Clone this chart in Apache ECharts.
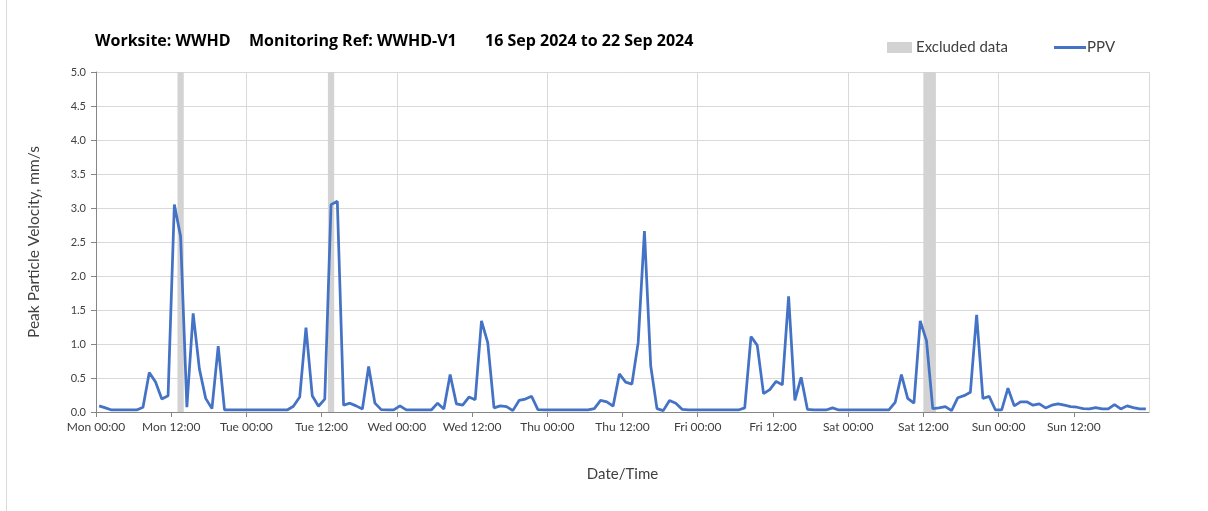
<!DOCTYPE html>
<html>
<head>
<meta charset="utf-8">
<script src="https://cdn.jsdelivr.net/npm/echarts@6/dist/echarts.min.js"></script>
<style>
  html, body { margin: 0; padding: 0; background: #fff; }
  #chart { width: 1208px; height: 511px; }
</style>
</head>
<body>
<div id="chart"></div>
<script>
// hourly PPV readings (mm/s), one array per day, taken at hh:30
var ppvMon = [0.09, 0.06, 0.03, 0.03, 0.03, 0.03, 0.03, 0.07, 0.58, 0.44, 0.19, 0.24, 3.05, 2.58, 0.07, 1.45, 0.63, 0.20, 0.05, 0.97, 0.03, 0.03, 0.03, 0.03]
var ppvTue = [0.03, 0.03, 0.03, 0.03, 0.03, 0.03, 0.03, 0.085, 0.22, 1.24, 0.24, 0.085, 0.19, 3.05, 3.10, 0.10, 0.13, 0.09, 0.045, 0.67, 0.13, 0.035, 0.03, 0.03]
var ppvWed = [0.09, 0.03, 0.03, 0.03, 0.03, 0.03, 0.13, 0.045, 0.55, 0.12, 0.10, 0.22, 0.18, 1.34, 1.02, 0.06, 0.09, 0.08, 0.02, 0.17, 0.19, 0.23, 0.035, 0.03]
var ppvThu = [0.03, 0.03, 0.03, 0.03, 0.03, 0.03, 0.03, 0.05, 0.17, 0.15, 0.085, 0.56, 0.44, 0.41, 1.02, 2.66, 0.68, 0.05, 0.02, 0.17, 0.13, 0.04, 0.03, 0.03]
var ppvFri = [0.03, 0.03, 0.03, 0.03, 0.03, 0.03, 0.03, 0.06, 1.11, 0.98, 0.27, 0.33, 0.45, 0.40, 1.70, 0.17, 0.51, 0.04, 0.03, 0.03, 0.03, 0.06, 0.03, 0.03]
var ppvSat = [0.03, 0.03, 0.03, 0.03, 0.03, 0.03, 0.03, 0.14, 0.55, 0.20, 0.13, 1.34, 1.05, 0.05, 0.06, 0.08, 0.02, 0.21, 0.24, 0.29, 1.43, 0.20, 0.23, 0.03]
var ppvSun = [0.03, 0.35, 0.09, 0.15, 0.15, 0.10, 0.12, 0.06, 0.10, 0.12, 0.10, 0.08, 0.07, 0.05, 0.045, 0.065, 0.045, 0.045, 0.11, 0.045, 0.09, 0.065, 0.045, 0.045]

// excluded periods, hours from Mon 00:00
var excludedStart = [13, 37, 132]
var excludedEnd = [14, 38, 134]

var dayNames = ['Mon', 'Tue', 'Wed', 'Thu', 'Fri', 'Sat', 'Sun']
var halfDayLabels = ['00:00', '12:00']
var yTicks = ['0.0', '0.5', '1.0', '1.5', '2.0', '2.5', '3.0', '3.5', '4.0', '4.5', '5.0']
var titleParts = ['Worksite: WWHD', 'Monitoring Ref: WWHD-V1', '16 Sep 2024 to 22 Sep 2024']

var ppv = [].concat(ppvMon, ppvTue, ppvWed, ppvThu, ppvFri, ppvSat, ppvSun)
var ppvData = ppv.map(function (v, i) { return [i + 0.5, v] })
var excludedAreas = excludedStart.map(function (s, i) {
  return [{ xAxis: s }, { xAxis: excludedEnd[i] }]
})

var font = 'Lato, "Open Sans", sans-serif'
var titleX = [95, 249, 485]
var myChart = echarts.init(document.getElementById('chart'))

var option = {
  animation: false,
  backgroundColor: '#fff',
  textStyle: { fontFamily: font },
  graphic: titleParts.map(function (t, i) {
    return {
      type: 'text',
      left: titleX[i],
      top: 33,
      style: { text: t, font: 'bold 16px "Open Sans", Lato, sans-serif', fill: '#000' }
    }
  }).concat([{
    type: 'line',
    shape: { x1: 6.5, y1: 0, x2: 6.5, y2: 511 },
    style: { stroke: '#d9d9d9', lineWidth: 1 }
  }]),
  legend: [
    {
      data: [{ name: 'Excluded data', icon: 'rect' }],
      left: 882,
      top: 35,
      itemWidth: 25,
      itemHeight: 11,
      itemGap: 4,
      textStyle: { fontSize: 15, color: '#404040', padding: [0, 0, 0, -1] }
    },
    {
      data: [{ name: 'PPV', icon: 'rect' }],
      left: 1049,
      top: 35,
      itemWidth: 32,
      itemHeight: 3,
      textStyle: { fontSize: 15, color: '#404040', padding: [0, 0, 0, -4] }
    }
  ],
  grid: {
    left: 96,
    right: 59,
    top: 72,
    bottom: 99
  },
  xAxis: [
    {
      type: 'value',
      min: 0,
      max: 168,
      interval: 12,
      name: 'Date/Time',
      nameLocation: 'middle',
      nameGap: 55,
      nameTextStyle: { fontSize: 15, color: '#404040' },
      axisLine: { show: true, lineStyle: { color: '#868686', width: 1 } },
      axisTick: { show: true, length: 5, lineStyle: { color: '#868686' } },
      splitLine: { show: false },
      axisLabel: {
        show: true,
        color: '#404040',
        fontSize: 12,
        margin: 9,
        showMaxLabel: false,
        formatter: function (v) {
          if (v >= 168) return ''
          return dayNames[Math.floor(v / 24)] + ' ' + halfDayLabels[(v % 24) / 12]
        }
      }
    },
    {
      type: 'value',
      min: 0,
      max: 168,
      interval: 24,
      position: 'bottom',
      axisLine: { show: false },
      axisTick: { show: false },
      axisLabel: { show: false },
      splitLine: { show: true, lineStyle: { color: '#d9d9d9', width: 1 } }
    }
  ],
  yAxis: {
    type: 'value',
    min: 0,
    max: 5,
    interval: 0.5,
    name: 'Peak Particle Velocity, mm/s',
    nameLocation: 'middle',
    nameGap: 54,
    nameTextStyle: { fontSize: 15.5, color: '#404040' },
    axisLine: { show: true, lineStyle: { color: '#868686', width: 1 } },
    axisTick: { show: true, length: 5, lineStyle: { color: '#868686' } },
    splitLine: { show: true, lineStyle: { color: '#d9d9d9', width: 1 } },
    axisLabel: {
      show: true,
      color: '#404040',
      fontSize: 11,
      margin: 10,
      formatter: function (v) { return yTicks[Math.round(v * 2)] }
    }
  },
  series: [
    {
      name: 'Excluded data',
      type: 'line',
      data: [],
      color: '#d3d3d3',
      silent: true,
      z: 1,
      markArea: {
        silent: true,
        itemStyle: { color: '#d3d3d3', opacity: 1 },
        data: excludedAreas
      }
    },
    {
      name: 'PPV',
      type: 'line',
      data: ppvData,
      color: '#4472c4',
      symbol: 'none',
      z: 3,
      lineStyle: { color: '#4472c4', width: 2.75 }
    }
  ]
}

myChart.setOption(option)
</script>
</body>
</html>
